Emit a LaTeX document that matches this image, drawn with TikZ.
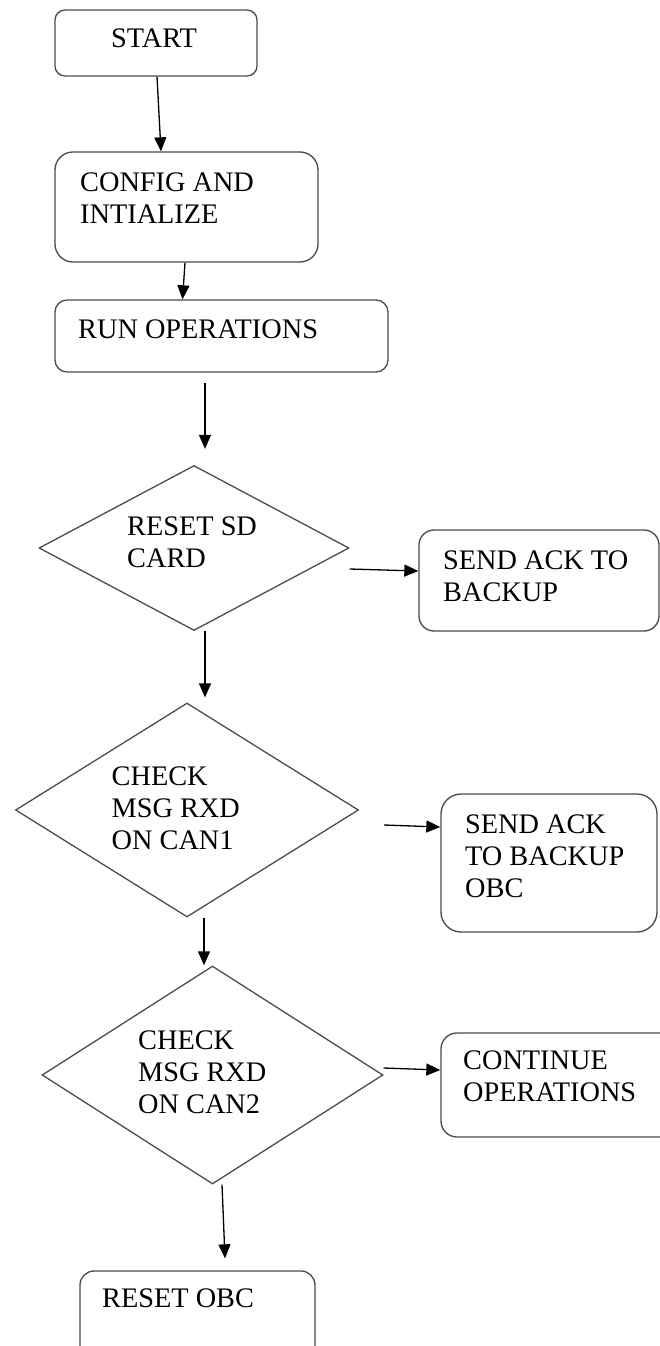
\documentclass[tikz,border=0pt]{standalone}
\usepackage{fontspec}
\setmainfont{Liberation Serif}
\usetikzlibrary{shapes.geometric,arrows.meta}

% left-aligned block whose baseline is that of its first line
\newcommand{\blk}[1]{\begin{tabular}[t]{@{}l@{}}#1\end{tabular}}

\begin{document}
\begin{tikzpicture}[x=1pt,y=-1pt,
  box/.style={draw=black!70, line width=1.35pt, rounded corners=#1,
              inner sep=0pt, rectangle},
  box/.default=12pt,
  dec/.style={draw=black!70, line width=1.3pt, diamond, inner sep=0pt},
  txt/.style={anchor=base west, inner sep=0pt,
              font=\fontsize{28.3pt}{32pt}\selectfont},
  arr/.style={draw=black, line width=1.3pt,
              -{Triangle[length=14pt,width=12pt]}}
]
\useasboundingbox (0,0) rectangle (660,1346);

% process boxes
\node[box=10pt, minimum width=202pt, minimum height=66pt]  (start)  at (156,43)    {};
\node[box=18pt, minimum width=263pt, minimum height=110pt] (config) at (186.5,207) {};
\node[box=12pt, minimum width=333pt, minimum height=72pt]  (run)    at (221.5,336) {};
\node[box=15pt, minimum width=240pt, minimum height=101pt] (ack1)   at (539,580.5) {};
\node[box=20pt, minimum width=216pt, minimum height=138pt] (ack2)   at (549,863)   {};
\node[box=16pt, minimum width=236pt, minimum height=104pt] (cont)   at (559,1085)  {};
\node[box=14pt, minimum width=235pt, minimum height=110pt] (robc)   at (197.5,1326){};

% decisions
\node[dec, minimum width=310pt, minimum height=165pt] (d1) at (194,548)    {};
\node[dec, minimum width=343pt, minimum height=214pt] (d2) at (187,810)    {};
\node[dec, minimum width=341pt, minimum height=218pt] (d3) at (212.5,1075) {};

% labels
\node[txt] (tstart)  at (111,48)   {START};
\node[txt] (tconfig) at (80,191)   {\blk{CONFIG AND\\INTIALIZE}};
\node[txt] (trun)    at (78,338)   {RUN OPERATIONS};
\node[txt] (td1)     at (127,535)  {\blk{RESET SD\\CARD}};
\node[txt] (tack1)   at (443,569)  {\blk{SEND ACK TO\\BACKUP}};
\node[txt] (td2)     at (111.5,785){\blk{CHECK\\MSG RXD\\ON CAN1}};
\node[txt] (tack2)   at (465,833)  {\blk{SEND ACK\\TO BACKUP\\OBC}};
\node[txt] (td3)     at (138,1049) {\blk{CHECK\\MSG RXD\\ON CAN2}};
\node[txt] (tcont)   at (463,1069) {\blk{CONTINUE\\OPERATIONS}};
\node[txt] (trobc)   at (102,1307) {RESET OBC};

% flow
\draw[arr] ([xshift=1pt]start.south) -- ([xshift=-25.5pt]config.north);
\draw[arr] ([xshift=-1.5pt]config.south) -- ([xshift=-39pt]run.north);
\draw[arr, shorten <=10pt, shorten >=16pt]
  ([xshift=-16.5pt]run.south) -- ([xshift=11pt]d1.north);
\draw[arr] ([yshift=-21pt]d1.east) -- ([yshift=9.5pt]ack1.west);
\draw[arr, shorten >=5pt] ([xshift=11pt]d1.south) -- ([xshift=18pt]d2.north);
\draw[arr] ([xshift=25pt,yshift=-15pt]d2.east) -- ([yshift=36pt]ack2.west);
\draw[arr] ([xshift=17pt]d2.south) -- ([xshift=-8.5pt]d3.north);
\draw[arr] ([yshift=7pt]d3.east) -- ([yshift=15pt]cont.west);
\draw[arr] ([xshift=9.5pt]d3.south) -- ([xshift=27.5pt,yshift=12pt]robc.north);
\end{tikzpicture}
\end{document}
